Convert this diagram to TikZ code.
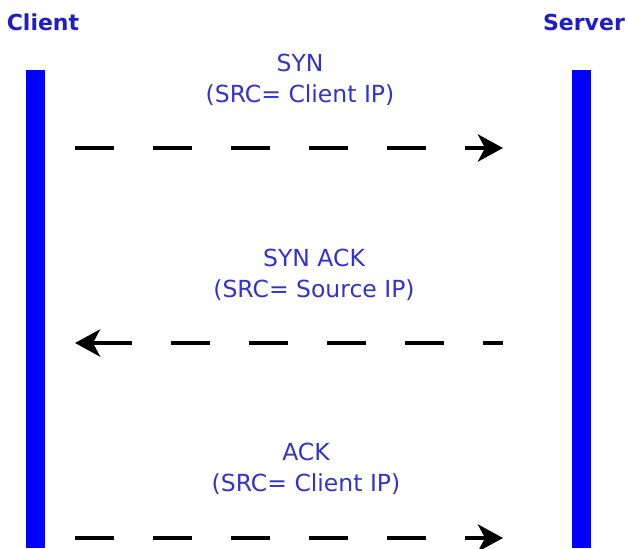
\documentclass[tikz,border=0pt]{standalone}
\usepackage{fontspec}
\setmainfont{DejaVu Sans}
\usetikzlibrary{arrows.meta}
\definecolor{barblue}{RGB}{0,0,255}
\definecolor{labelblue}{RGB}{51,51,204}
\definecolor{titleblue}{RGB}{30,30,200}
\tikzset{
  lifeline/.style={fill=barblue, draw=none, minimum width=19pt, minimum height=478pt, inner sep=0pt},
  partyname/.style={font=\bfseries\fontsize{22}{26}\selectfont, text=titleblue, anchor=base, inner sep=0pt},
  msglabel/.style={font=\fontsize{23.5}{31}\selectfont, text=labelblue, align=center, inner sep=0pt},
  msg/.style={line width=4.5pt, dash pattern=on 39pt off 39pt,
    -{Stealth[length=25pt,width=27pt,inset=7pt]}},
}
\begin{document}
\begin{tikzpicture}[x=1pt,y=-1pt]
\useasboundingbox (0,0) rectangle (628,548);

% lifelines
\node[lifeline] (client) at (35.5,309) {};
\node[lifeline] (server) at (581.5,309) {};
\node[partyname] (clientname) at (43,31) {Client};
\node[partyname] (servername) at (584,31) {Server};

% message end points
\coordinate (c1) at (75,148);  \coordinate (s1) at (503,148);
\coordinate (c2) at (75,343);  \coordinate (s2) at (503,343);
\coordinate (c3) at (75,538);  \coordinate (s3) at (503,538);

% handshake messages
\node[msglabel] (syn) at (300,80) {SYN\\(SRC= Client IP)};
\draw[msg] (c1) -- (s1);

\node[msglabel] (synack) at (314,275) {SYN ACK\\(SRC= Source IP)};
\draw[msg, dash phase=19pt] (s2) -- (c2);

\node[msglabel] (ack) at (306,469) {ACK\\(SRC= Client IP)};
\draw[msg] (c3) -- (s3);
\end{tikzpicture}
\end{document}
